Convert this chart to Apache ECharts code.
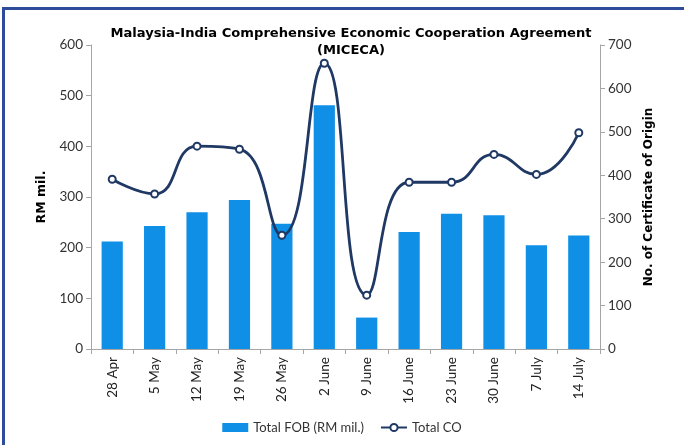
<!DOCTYPE html>
<html>
<head>
<meta charset="utf-8">
<script src="https://cdn.jsdelivr.net/npm/echarts@6/dist/echarts.min.js"></script>
<style>
  html, body { margin: 0; padding: 0; background: #fff; }
  #chart { width: 684px; height: 445px; }
</style>
</head>
<body>
<div id="chart"></div>
<script>
  // weekly data
  var weeks = ['28 Apr', '5 May', '12 May', '19 May', '26 May', '2 June', '9 June',
               '16 June', '23 June', '30 June', '7 July', '14 July'];
  var totalFob = [212, 243, 270, 294, 247, 481, 62, 231, 267, 264, 205, 224];
  var totalCo = [391, 357, 467, 460, 262, 658, 124, 384, 384, 448, 402, 498];
  var leftTicks = [0, 100, 200, 300, 400, 500, 600];
  var rightTicks = [0, 100, 200, 300, 400, 500, 600, 700];

  var font = 'Lato, "DejaVu Sans", sans-serif';
  var boldFont = '"DejaVu Sans", sans-serif';
  var axisGrey = '#a6a6a6';

  var chart = echarts.init(document.getElementById('chart'));
  chart.setOption({
    animation: false,
    textStyle: { fontFamily: font },
    title: {
      text: 'Malaysia-India Comprehensive Economic Cooperation Agreement\n(MICECA)',
      left: 346,
      textAlign: 'center',
      top: 20,
      textStyle: { fontSize: 13.1, fontWeight: 'bold', color: '#000', lineHeight: 17, fontFamily: boldFont }
    },
    // frame lines (left + top) like the original slide box
    graphic: [
      { type: 'line', shape: { x1: 3.5, y1: 8, x2: 3.5, y2: 445 }, style: { stroke: '#2f4b9b', lineWidth: 3 } },
      { type: 'line', shape: { x1: 2, y1: 8.5, x2: 684, y2: 8.5 }, style: { stroke: '#2f4b9b', lineWidth: 3 } }
    ],
    legend: {
      bottom: 6,
      left: 'center',
      itemGap: 16,
      itemWidth: 26,
      itemHeight: 9,
      textStyle: { fontSize: 13, color: '#333', fontFamily: font },
      data: [
        { name: 'Total FOB (RM mil.)', icon: 'rect' },
        { name: 'Total CO' }
      ]
    },
    grid: { left: 91, right: 84, top: 45, bottom: 96 },
    xAxis: {
      type: 'category',
      data: weeks,
      axisLine: { lineStyle: { color: axisGrey } },
      axisTick: { show: true, length: 5, lineStyle: { color: axisGrey } },
      axisLabel: { rotate: 90, fontSize: 13.5, color: '#222', margin: 8, interval: 0 }
    },
    yAxis: [
      {
        type: 'value',
        min: leftTicks[0],
        max: leftTicks[leftTicks.length - 1],
        interval: 100,
        name: 'RM mil.',
        nameLocation: 'middle',
        nameGap: 33,
        nameTextStyle: { fontSize: 12.5, fontWeight: 'bold', color: '#000', fontFamily: boldFont },
        axisLine: { show: true, lineStyle: { color: axisGrey } },
        axisTick: { show: true, length: 5, lineStyle: { color: axisGrey } },
        axisLabel: { fontSize: 13.5, color: '#333', margin: 8 },
        splitLine: { show: false }
      },
      {
        type: 'value',
        min: rightTicks[0],
        max: rightTicks[rightTicks.length - 1],
        interval: 100,
        name: 'No. of Certificate of Origin',
        nameLocation: 'middle',
        nameGap: 38,
        nameRotate: 90,
        nameTextStyle: { fontSize: 12, fontWeight: 'bold', color: '#000', fontFamily: boldFont },
        axisLine: { show: true, lineStyle: { color: axisGrey } },
        axisTick: { show: true, length: 5, lineStyle: { color: axisGrey } },
        axisLabel: { fontSize: 13.5, color: '#333', margin: 8 },
        splitLine: { show: false }
      }
    ],
    series: [
      {
        name: 'Total FOB (RM mil.)',
        type: 'bar',
        yAxisIndex: 0,
        barWidth: '50%',
        itemStyle: { color: '#0f8fe6' },
        data: totalFob
      },
      {
        name: 'Total CO',
        type: 'line',
        yAxisIndex: 1,
        smooth: 0.5,
        symbol: 'circle',
        symbolSize: 7,
        lineStyle: { color: '#1f3864', width: 2.8 },
        itemStyle: { color: '#fff', borderColor: '#1f3864', borderWidth: 2 },
        data: totalCo
      }
    ]
  });
</script>
</body>
</html>
